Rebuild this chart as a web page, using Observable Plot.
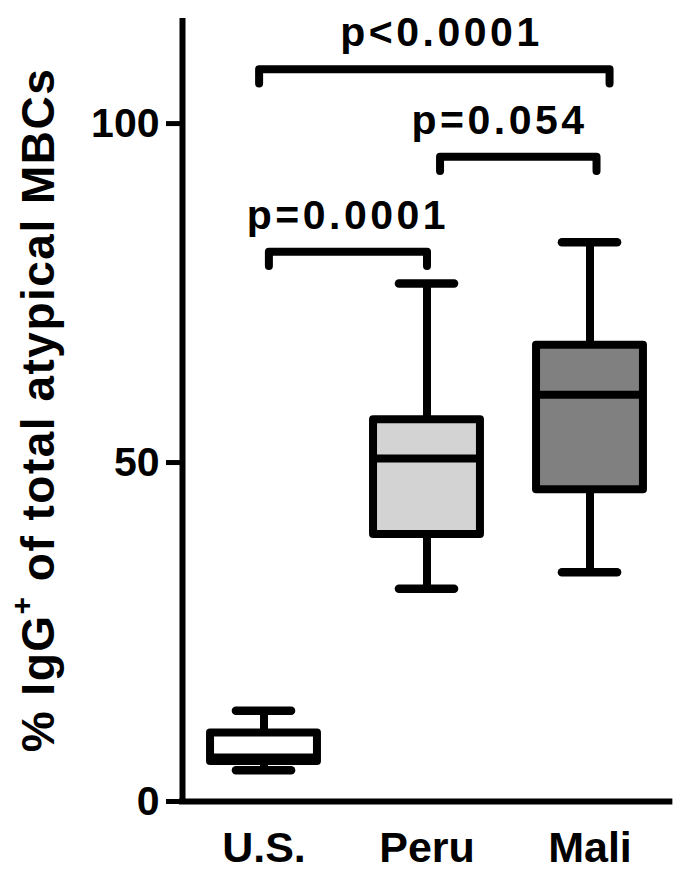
<!DOCTYPE html>
<html><head><meta charset="utf-8">
<script src="https://cdn.jsdelivr.net/npm/d3@7"></script>
<script src="https://cdn.jsdelivr.net/npm/@observablehq/plot@0.6"></script>
<style>body{margin:0;background:#fff} #chart{width:683px;height:874px}</style>
</head><body><div id="chart"></div>
<script>
const categories = ["U.S.", "Peru", "Mali"];
const whiskerLow = [4.6, 31.4, 33.8];
const quartile1 = [5.9, 39.4, 46.0];
const medians = [6.5, 50.6, 60.0];
const quartile3 = [10.1, 56.3, 67.3];
const whiskerHigh = [13.4, 76.4, 82.5];
const boxColors = ["#ffffff", "#d3d3d3", "#808080"];
const yTicks = [0, 50, 100];
const yMax = 115.5;
const yTitle = ["% IgG", "+", " of total atypical MBCs"];
const bracketLabels = ["p=0.0001", "p=0.054", "p<0.0001"];
const bracketStart = [0.03, 1.08, -0.03];
const bracketEnd = [1.0, 2.04, 2.12];
const bracketLevel = [81.1, 95.1, 108.0];
const labelX = [0.515, 1.445, 1.089];

const boxes = categories.map((c, i) => ({c, i, lo: whiskerLow[i], q1: quartile1[i], med: medians[i], q3: quartile3[i], hi: whiskerHigh[i]}));
const HALF_BOX = 0.328, HALF_CAP = 0.169, TIP = 2.1;
const bracketPts = [];
bracketLabels.forEach((l, k) => {
  const y = bracketLevel[k];
  [[bracketStart[k], y - TIP], [bracketStart[k], y], [bracketEnd[k], y], [bracketEnd[k], y - TIP]]
    .forEach(([x, yy]) => bracketPts.push({k, x, y: yy}));
});
const labels = bracketLabels.map((t, k) => ({t, x: labelX[k], y: bracketLevel[k]}));

const font = "'Liberation Sans', Arial, Helvetica, sans-serif";
const plot = Plot.plot({
  width: 683, height: 874,
  marginLeft: 182, marginRight: 12, marginTop: 18, marginBottom: 73,
  style: {fontFamily: font, background: "#fff", color: "#000", overflow: "visible"},
  x: {type: "linear", domain: [-0.5, 2.5], axis: null},
  y: {domain: [0, yMax], axis: null},
  color: {type: "ordinal", domain: categories, range: boxColors},
  marks: [
    Plot.ruleX(boxes, {x: "i", y1: "lo", y2: "q1", stroke: "#000", strokeWidth: 8}),
    Plot.ruleX(boxes, {x: "i", y1: "q3", y2: "hi", stroke: "#000", strokeWidth: 8}),
    Plot.rect(boxes, {x1: d => d.i - HALF_BOX, x2: d => d.i + HALF_BOX, y1: "q1", y2: "q3", fill: "c", stroke: "#000", strokeWidth: 8, strokeLinejoin: "round"}),
    Plot.ruleY(boxes, {y: "med", x1: d => d.i - HALF_BOX, x2: d => d.i + HALF_BOX, stroke: "#000", strokeWidth: 8}),
    Plot.ruleY(boxes, {y: "lo", x1: d => d.i - HALF_CAP, x2: d => d.i + HALF_CAP, stroke: "#000", strokeWidth: 8.5, strokeLinecap: "round"}),
    Plot.ruleY(boxes, {y: "hi", x1: d => d.i - HALF_CAP, x2: d => d.i + HALF_CAP, stroke: "#000", strokeWidth: 8.5, strokeLinecap: "round"}),
    Plot.line(bracketPts, {x: "x", y: "y", z: "k", stroke: "#000", strokeWidth: 8, strokeLinecap: "round", strokeLinejoin: "round"}),
    Plot.text(labels, {x: "x", y: "y", text: "t", dy: -23, lineAnchor: "bottom", fontSize: 41, fontWeight: "bold", fill: "#000"}),
    Plot.ruleX([-0.5], {y1: 0, y2: yMax, stroke: "#000", strokeWidth: 6}),
    Plot.ruleY([0], {x1: -0.5, x2: 2.49, stroke: "#000", strokeWidth: 6, strokeLinecap: "square"}),
    Plot.axisY(yTicks, {tickSize: 16, tickPadding: 7, strokeWidth: 5, stroke: "#000", fontSize: 41, fontWeight: "bold", label: null}),
    Plot.axisX([0, 1, 2], {tickSize: 0, tickPadding: 30, tickFormat: i => categories[i], fontSize: 43, fontWeight: "bold", label: null})
  ]
});
document.getElementById("chart").appendChild(plot);
const svg = d3.select(plot);
svg.selectAll("g[aria-label='text'] text").style("letter-spacing", "3.5px");
const t = svg.append("text")
  .attr("transform", "translate(54,410) rotate(-90)")
  .attr("text-anchor", "middle")
  .attr("font-size", 46).attr("font-weight", "bold").attr("font-family", font)
  .attr("fill", "#000").style("letter-spacing", "1.5px");
t.append("tspan").text(yTitle[0]);
t.append("tspan").attr("font-size", 30).attr("dy", -22).text(yTitle[1]);
t.append("tspan").attr("dy", 22).text(yTitle[2]);
</script>
</body></html>
